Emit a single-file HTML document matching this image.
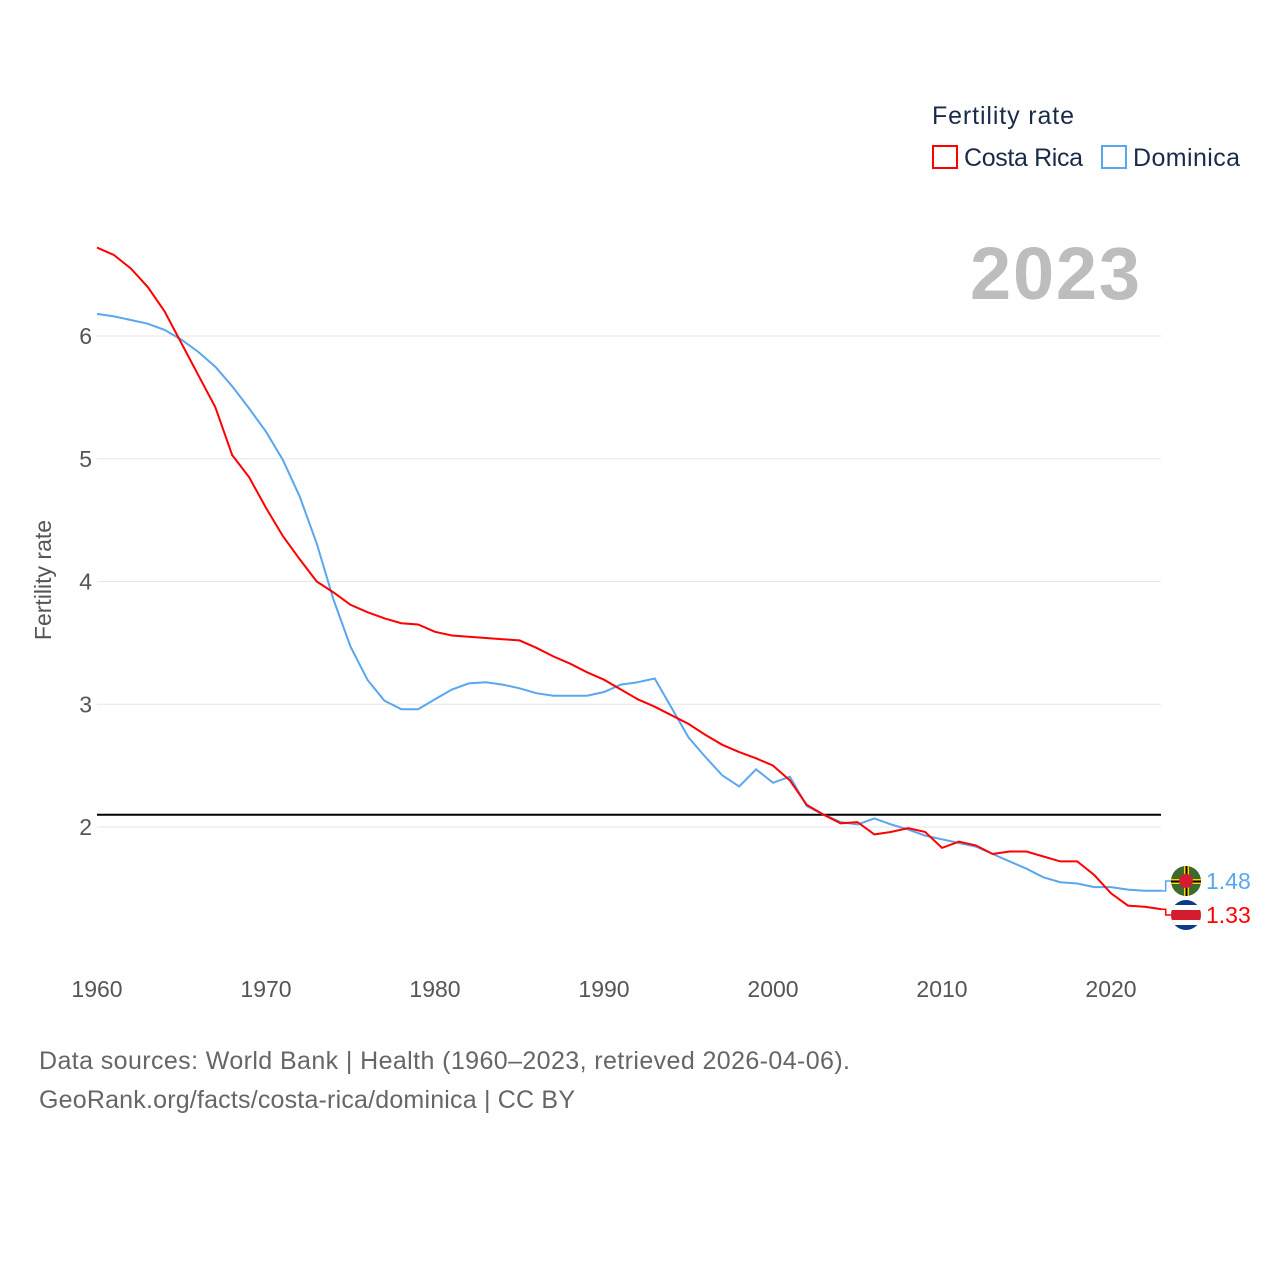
<!DOCTYPE html>
<html><head><meta charset="utf-8"><style>
body{margin:0;background:#fff;font-family:"Liberation Sans",sans-serif}
svg{display:block}
</style></head><body>
<svg id="c" width="1280" height="1280" xmlns="http://www.w3.org/2000/svg">
<defs><clipPath id="fc"><circle cx="1186" cy="915" r="15"/></clipPath><clipPath id="fdc"><circle cx="1186" cy="881" r="15"/></clipPath></defs>
<text x="932" y="124" font-size="25" fill="#1a2b4a" textLength="142">Fertility rate</text>
<g><rect x="933" y="146" width="24" height="22" fill="none" stroke="#f00" stroke-width="2"/><text x="964" y="166" font-size="25" fill="#1a2b4a" textLength="119">Costa Rica</text></g>
<g><rect x="1102" y="146" width="24" height="22" fill="none" stroke="#5aa6ef" stroke-width="2"/><text x="1133" y="166" font-size="25" fill="#1a2b4a" textLength="107">Dominica</text></g>
<text x="1140" y="299" font-size="74" font-weight="bold" fill="#bdbdbd" text-anchor="end" textLength="170">2023</text>
<text transform="translate(51,580) rotate(-90)" font-size="23" fill="#555" text-anchor="middle">Fertility rate</text>
<g id="grid"></g><g id="lines"></g>
<text x="39" y="1069" font-size="25" fill="#666" textLength="811">Data sources: World Bank | Health (1960–2023, retrieved 2026-04-06).</text>
<text x="39" y="1108" font-size="25" fill="#666" textLength="536">GeoRank.org/facts/costa-rica/dominica | CC BY</text>
</svg>
<script>
const years=[];for(let y=1960;y<=2023;y++)years.push(y);
const costaRica=[6.72,6.66,6.55,6.40,6.20,5.94,5.68,5.42,5.03,4.85,4.60,4.37,4.18,4.00,3.91,3.81,3.75,3.70,3.66,3.65,3.59,3.56,3.55,3.54,3.53,3.52,3.46,3.39,3.33,3.26,3.20,3.12,3.04,2.98,2.91,2.84,2.75,2.67,2.61,2.56,2.50,2.38,2.18,2.10,2.03,2.04,1.94,1.96,1.99,1.96,1.83,1.88,1.85,1.78,1.80,1.80,1.76,1.72,1.72,1.61,1.46,1.36,1.35,1.33];
const dominica=[6.18,6.16,6.13,6.10,6.05,5.97,5.87,5.75,5.59,5.41,5.22,4.99,4.69,4.31,3.85,3.47,3.20,3.03,2.96,2.96,3.04,3.12,3.17,3.18,3.16,3.13,3.09,3.07,3.07,3.07,3.10,3.16,3.18,3.21,2.97,2.73,2.57,2.42,2.33,2.47,2.36,2.41,2.17,2.10,2.04,2.02,2.07,2.02,1.98,1.93,1.90,1.87,1.84,1.78,1.72,1.66,1.59,1.55,1.54,1.51,1.51,1.49,1.48,1.48];
const yTicks=[2,3,4,5,6];
const xTicks=[1960,1970,1980,1990,2000,2010,2020];
const replacement=2.1;
const NS="http://www.w3.org/2000/svg";
const X=y=>97+(y-1960)*(1014/60);
const Y=v=>827-(v-2)*122.75;
function mk(t,a,p){const e=document.createElementNS(NS,t);for(const k in a)e.setAttribute(k,a[k]);p.appendChild(e);return e;}
const g=document.getElementById('grid'),L=document.getElementById('lines');
yTicks.forEach(v=>{
 const l=mk('line',{x1:97,x2:1161,y1:Y(v),y2:Y(v),stroke:'#e6e6e6'},g);
 
 
 const t=mk('text',{x:92,y:Y(v)+8,'font-size':23,fill:'#555','text-anchor':'end'},g);t.textContent=v;
 
 
});
xTicks.forEach(v=>{
 const t=mk('text',{x:X(v),y:997,'font-size':23,fill:'#555','text-anchor':'middle'},g);t.textContent=v;
 
 
});
const rl=mk('line',{x1:97,x2:1161,y1:Y(replacement),y2:Y(replacement),stroke:'#000','stroke-width':2},g);


function series(vals,col,name,ly){
 const d=vals.map((v,i)=>(i?'L':'M')+X(years[i]).toFixed(1)+','+Y(v).toFixed(1)).join('');
 const p=mk('path',{d:d,fill:'none',stroke:col,'stroke-width':2},L);
 
 
 const last=vals[vals.length-1],xe=X(years[years.length-1]),ye=Y(last);
 const c=mk('path',{d:`M${xe},${ye}H${xe+4}V${ly}H1172`,fill:'none',stroke:col,'stroke-width':1.5},L);
 
 
 const t=mk('text',{x:1206,y:ly+8,'font-size':23,fill:col},L);t.textContent=last.toFixed(2);
 
 
}
series(dominica,'#5aa6ef','dominica',881);
series(costaRica,'#f00','costa-rica',915);
const fd=mk('g',{'clip-path':'url(#fdc)'},L);


mk('rect',{x:1171,y:866,width:30,height:30,fill:'#3d6b2a'},fd);
mk('rect',{x:1171,y:879,width:30,height:5,fill:'#ffd500'},fd);
mk('rect',{x:1184,y:866,width:5,height:30,fill:'#ffd500'},fd);
mk('rect',{x:1171,y:880.5,width:30,height:2,fill:'#000'},fd);
mk('rect',{x:1185.5,y:866,width:2,height:30,fill:'#000'},fd);
mk('circle',{cx:1186,cy:881,r:7,fill:'#d41c30'},fd);
const fc=mk('g',{'clip-path':'url(#fc)'},L);


mk('rect',{x:1171,y:900,width:30,height:30,fill:'#0a3a8c'},fc);
mk('rect',{x:1171,y:905,width:30,height:20,fill:'#fff'},fc);
mk('rect',{x:1171,y:910,width:30,height:10,fill:'#d41c30'},fc);
</script>
</body></html>
